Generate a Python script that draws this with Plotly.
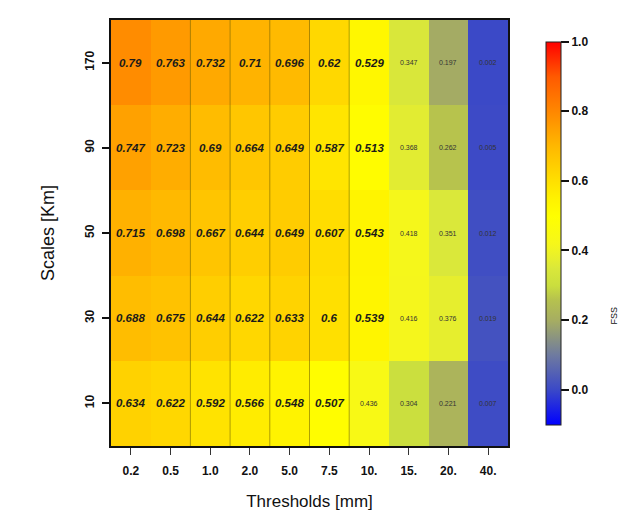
import plotly.graph_objects as go

thresholds = ["0.2", "0.5", "1.0", "2.0", "5.0", "7.5", "10.", "15.", "20.", "40."]
scales = ["10", "30", "50", "90", "170"]  # bottom to top

fss_10 = [0.634, 0.622, 0.592, 0.566, 0.548, 0.507, 0.436, 0.304, 0.221, 0.007]
fss_30 = [0.688, 0.675, 0.644, 0.622, 0.633, 0.6, 0.539, 0.416, 0.376, 0.019]
fss_50 = [0.715, 0.698, 0.667, 0.644, 0.649, 0.607, 0.543, 0.418, 0.351, 0.012]
fss_90 = [0.747, 0.723, 0.69, 0.664, 0.649, 0.587, 0.513, 0.368, 0.262, 0.005]
fss_170 = [0.79, 0.763, 0.732, 0.71, 0.696, 0.62, 0.529, 0.347, 0.197, 0.002]

z = [fss_10, fss_30, fss_50, fss_90, fss_170]

vmin, vmax = -0.1, 1.0
stops = [
    (-0.1, "#0000ff"), (0.0, "#3a48c8"), (0.1, "#6e7aa0"), (0.2, "#a6ad62"),
    (0.26, "#b6c24e"), (0.30, "#cade3e"), (0.35, "#dae83a"), (0.38, "#e8ef2c"),
    (0.42, "#f6f71a"), (0.5, "#ffff00"), (0.55, "#fff200"), (0.6, "#ffe000"),
    (0.65, "#ffcc00"), (0.7, "#ffb800"), (0.75, "#ffa000"), (0.79, "#ff8c00"),
    (0.9, "#ff5a00"), (1.0, "#ff0000"),
]
colorscale = [[(v - vmin) / (vmax - vmin), c] for v, c in stops]

xi_idx = list(range(len(thresholds)))
yi_idx = list(range(len(scales)))

fig = go.Figure()
fig.add_trace(go.Heatmap(
    x=xi_idx, y=yi_idx, z=z, zmin=vmin, zmax=vmax,
    colorscale=colorscale, xgap=0, ygap=0, hoverinfo="skip",
    colorbar=dict(
        x=1.0957, xanchor="left", xpad=0, y=0.5, yanchor="middle", ypad=0,
        len=0.898, lenmode="fraction", thickness=15,
        outlinewidth=1, outlinecolor="#222",
        tickvals=[0.0, 0.2, 0.4, 0.6, 0.8, 1.0],
        ticktext=["0.0", "0.2", "0.4", "0.6", "0.8", "1.0"],
        ticks="outside", ticklen=8, tickwidth=1.5, tickcolor="#111",
        tickfont=dict(family="Liberation Sans", size=12, color="#111", weight="bold"),
    ),
))

annotations = []
for yi, row in enumerate(z):
    for xi, v in enumerate(row):
        big = v >= 0.5
        annotations.append(dict(
            x=xi_idx[xi], y=yi_idx[yi], xref="x", yref="y",
            text=f"{v:g}", showarrow=False,
            font=dict(family="Liberation Sans", size=11.5 if big else 7,
                      color="#1a1a1a" if big else "#333",
                      weight="bold" if big else "normal",
                      style="italic" if big else "normal"),
        ))

annotations.append(dict(
    x=1.285, y=0.281, xref="paper", yref="paper", text="FSS", showarrow=False,
    textangle=-90, font=dict(family="Liberation Sans", size=9, color="#111"),
))

shapes = []
for b in range(1, 6):
    shapes.append(dict(
        type="line", xref="x", yref="paper", x0=b + 0.5, x1=b + 0.5, y0=0, y1=1,
        line=dict(color="rgba(110,95,0,0.55)", width=1), layer="above",
    ))

fig.update_layout(
    width=634, height=510,
    margin=dict(l=103, r=134, t=10, b=70),
    paper_bgcolor="white", plot_bgcolor="white",
    annotations=annotations, shapes=shapes,
    xaxis=dict(
        range=[-0.5, len(thresholds) - 0.5], autorange=False,
        tickmode="array", tickvals=xi_idx, ticktext=thresholds, tickangle=0,
        showgrid=False, zeroline=False,
        showline=True, linecolor="#111", linewidth=1.5, mirror=True,
        ticks="outside", ticklen=7, tickwidth=1, tickcolor="#333",
        ticklabelstandoff=6,
        tickfont=dict(family="Liberation Sans", size=12, color="#111", weight="bold"),
        title=dict(text="Thresholds [mm]", standoff=18,
                   font=dict(family="Liberation Sans", size=17, color="#111")),
    ),
    yaxis=dict(
        range=[-0.5, len(scales) - 0.5], autorange=False,
        tickmode="array", tickvals=yi_idx, ticktext=scales,
        showgrid=False, zeroline=False,
        showline=True, linecolor="#111", linewidth=1.5, mirror=True,
        ticks="outside", ticklen=7, tickwidth=1.5, tickcolor="#111",
        tickangle=-90, ticklabelstandoff=3,
        tickfont=dict(family="Liberation Sans", size=12, color="#111", weight="bold"),
        title=dict(text="Scales [Km]", standoff=24,
                   font=dict(family="Liberation Sans", size=18, color="#111")),
    ),
)

fig.write_html("out.html")
